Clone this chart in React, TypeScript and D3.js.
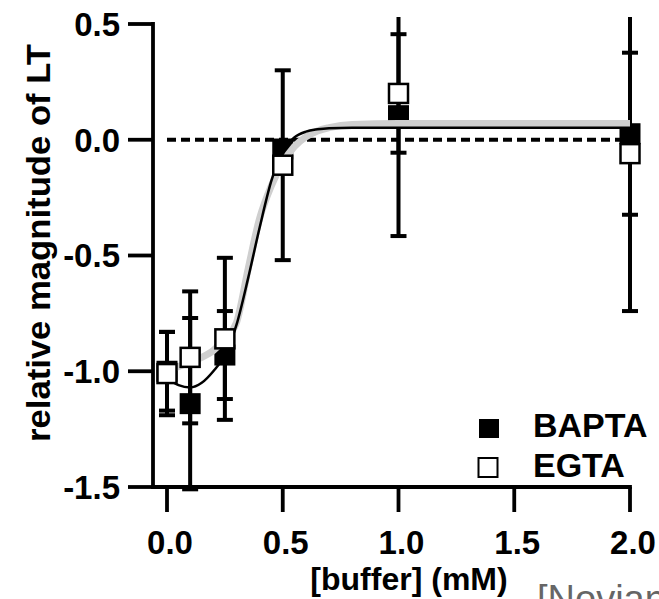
import React from "react";
import * as d3 from "d3";

// ---- data ----
const doses = [0, 0.1, 0.25, 0.5, 1.0, 2.0];
const baptaMean = [-1.0, -1.14, -0.93, -0.04, 0.104, 0.026];
const baptaErr = [0.17, 0.37, 0.19, 0.03, 0.52, 0.35];
const egtaMean = [-1.01, -0.94, -0.86, -0.11, 0.2, -0.06];
const egtaErr = [0.18, 0.285, 0.35, 0.41, 0.256, 0.68];

const fitX = [0, 0.05, 0.1, 0.15, 0.2, 0.25, 0.3, 0.35, 0.4, 0.45, 0.5, 0.55, 0.6, 0.65, 0.7, 0.8, 1.0, 1.5, 2.0];
const baptaFit = [-1.03, -1.06, -1.07, -1.05, -1.0, -0.93, -0.8, -0.6, -0.38, -0.18, -0.05, 0.01, 0.035, 0.045, 0.05, 0.052, 0.052, 0.052, 0.052];
const egtaFit = [-1.0, -0.98, -0.96, -0.94, -0.91, -0.86, -0.79, -0.56, -0.34, -0.2, -0.1, -0.03, 0.012, 0.038, 0.052, 0.066, 0.07, 0.07, 0.07];

const xTicks = [0, 0.5, 1.0, 1.5, 2.0];
const yTicks = [0.5, 0, -0.5, -1.0, -1.5];
const legendLabels = ["BAPTA", "EGTA"];

const FONT = "'Liberation Sans', Arial, Helvetica, sans-serif";

export default function App() {
  const W = 659;
  const H = 599;
  const x = d3.scaleLinear().domain([0, 2]).range([167, 630]);
  const y = d3.scaleLinear().domain([-1.5, 0.5]).range([487, 24]);
  const axisX0 = 153;
  const axisY0 = 487;
  const clipTop = 17;

  const line = d3
    .line<number>()
    .x((_, i) => x(fitX[i]))
    .y((d) => y(d))
    .curve(d3.curveMonotoneX);

  const cap = 16;
  const sq = 19;

  const errBars = (means: number[], errs: number[], key: string) =>
    doses.map((d, i) => {
      const cx = x(d);
      const top = y(means[i] + errs[i]);
      const bot = y(means[i] - errs[i]);
      return (
        <g key={key + i} stroke="#000" strokeWidth={4}>
          <line x1={cx} x2={cx} y1={top} y2={bot} />
          <line x1={cx - cap / 2} x2={cx + cap / 2} y1={top} y2={top} />
          <line x1={cx - cap / 2} x2={cx + cap / 2} y1={bot} y2={bot} />
        </g>
      );
    });

  return (
    <svg
      width={W}
      height={H}
      style={{ position: "absolute", left: 0, top: 0, background: "#fff" }}
      fontFamily={FONT}
    >
      <defs>
        <clipPath id="plotclip">
          <rect x={0} y={clipTop} width={W} height={H - clipTop} />
        </clipPath>
      </defs>
      <rect x={0} y={0} width={W} height={H} fill="#fff" />

      {/* zero dashed line */}
      <line
        x1={x(0)}
        x2={x(2)}
        y1={y(0)}
        y2={y(0)}
        stroke="#000"
        strokeWidth={4}
        strokeDasharray="9,5"
      />

      {/* axes */}
      <g stroke="#000" strokeWidth={3.8}>
        <line x1={axisX0} x2={axisX0} y1={y(0.5) - 1.9} y2={axisY0 + 1.9} />
        <line x1={axisX0 - 1.9} x2={x(2) + 1.9} y1={axisY0} y2={axisY0} />
        {yTicks.map((t) => (
          <line key={"yt" + t} x1={axisX0 - 25} x2={axisX0} y1={y(t)} y2={y(t)} />
        ))}
        {xTicks.map((t) => (
          <line key={"xt" + t} x1={x(t)} x2={x(t)} y1={axisY0} y2={axisY0 + 25} />
        ))}
      </g>
      {yTicks.map((t) => (
        <text
          key={"yl" + t}
          x={120}
          y={y(t)}
          dy="0.36em"
          textAnchor="end"
          fontSize={33}
          fontWeight="bold"
        >
          {t.toFixed(1)}
        </text>
      ))}
      {xTicks.map((t) => (
        <text
          key={"xl" + t}
          x={x(t) + 3}
          y={554}
          textAnchor="middle"
          fontSize={33}
          fontWeight="bold"
        >
          {t.toFixed(1)}
        </text>
      ))}

      {/* titles */}
      <text
        transform={`translate(50,442) rotate(-90)`}
        fontSize={33}
        fontWeight="bold"
        textLength={398}
        lengthAdjust="spacingAndGlyphs"
      >
        relative magnitude of LT
      </text>
      <text x={409} y={590} textAnchor="middle" fontSize={32} fontWeight="bold">
        [buffer] (mM)
      </text>

      {/* error bars */}
      <g clipPath="url(#plotclip)">
        {errBars(baptaMean, baptaErr, "be")}
        {errBars(egtaMean, egtaErr, "ee")}
      </g>

      {/* BAPTA markers */}
      {doses.map((d, i) => (
        <rect
          key={"bm" + i}
          x={x(d) - sq / 2 - 1}
          y={y(baptaMean[i]) - sq / 2 - 1}
          width={sq + 2}
          height={sq + 2}
          fill="#000"
        />
      ))}

      {/* fits */}
      <path d={line(egtaFit) || ""} fill="none" stroke="#cfcfcf" strokeWidth={7} />
      <path d={line(baptaFit) || ""} fill="none" stroke="#000" strokeWidth={2.5} />

      {/* EGTA markers */}
      {doses.map((d, i) => (
        <rect
          key={"em" + i}
          x={x(d) - sq / 2}
          y={y(egtaMean[i]) - sq / 2}
          width={sq}
          height={sq}
          fill="#fff"
          stroke="#000"
          strokeWidth={2.5}
        />
      ))}

      {/* legend */}
      <rect x={479} y={419} width={20} height={19} fill="#000" />
      <rect x={478.5} y={458} width={19} height={19} fill="#fff" stroke="#000" strokeWidth={2} />
      <text x={533} y={437} fontSize={34} fontWeight="bold">
        {legendLabels[0]}
      </text>
      <text x={533} y={477} fontSize={34} fontWeight="bold">
        {legendLabels[1]}
      </text>

      {/* caption (cut off by the frame, as in the source) */}
      <text x={537} y={612} fontSize={38} fill="#666">
        [Novian
      </text>
    </svg>
  );
}
